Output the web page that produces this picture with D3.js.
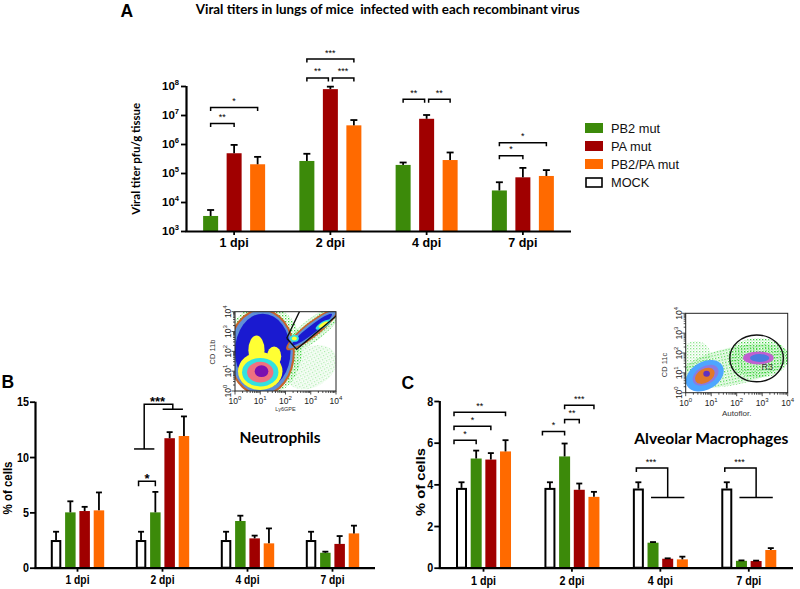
<!DOCTYPE html>
<html><head><meta charset="utf-8">
<script src="https://cdn.jsdelivr.net/npm/d3@7/dist/d3.min.js"></script>
<style>
html,body{margin:0;padding:0;background:#fff;}
svg{display:block;}
</style></head><body>
<svg id="fig" width="800" height="589"></svg>
<script>
// ---------------- DATA ----------------
const days = ["1 dpi", "2 dpi", "4 dpi", "7 dpi"];
const virusSeries = ["PB2 mut", "PA mut", "PB2/PA mut"];
const cellSeries = ["MOCK", "PB2 mut", "PA mut", "PB2/PA mut"];
const legendLabels = ["PB2 mut", "PA mut", "PB2/PA mut", "MOCK"];

// Panel A: viral titer (pfu/g tissue) mean and SEM
const titerPB2   = [3.3e3, 2.6e5, 1.9e5, 2.5e4];
const titerPA    = [4.8e5, 7.8e7, 7.4e6, 7.1e4];
const titerPB2PA = [2.0e5, 4.4e6, 2.8e5, 7.9e4];
const semTiterPB2   = [2.0e3, 2.0e5, 0.4e5, 2.3e4];
const semTiterPA    = [4.5e5, 1.7e7, 2.6e6, 7.9e4];
const semTiterPB2PA = [1.6e5, 2.3e6, 2.3e5, 4.7e4];
const titerTicks = [1e3, 1e4, 1e5, 1e6, 1e7, 1e8];

// Panel B: neutrophils (% of cells)
const neutMOCK  = [2.5, 2.5, 2.5, 2.5];
const neutPB2   = [5.0, 5.0, 4.22, 1.35];
const neutPA    = [5.12, 11.7, 2.65, 2.15];
const neutPB2PA = [5.18, 11.9, 2.2, 3.1];
const semNeutMOCK  = [0.75, 0.75, 0.75, 0.75];
const semNeutPB2   = [1.0, 1.85, 0.48, 0.1];
const semNeutPA    = [0.38, 0.55, 0.25, 0.71];
const semNeutPB2PA = [1.62, 1.77, 1.35, 0.7];
const neutTicks = [0, 5, 10, 15];

// Panel C: alveolar macrophages (% of cells)
const amMOCK  = [3.83, 3.83, 3.8, 3.8];
const amPB2   = [5.24, 5.34, 1.2, 0.33];
const amPA    = [5.19, 3.74, 0.43, 0.32];
const amPB2PA = [5.58, 3.4, 0.4, 0.85];
const semAmMOCK  = [0.27, 0.27, 0.3, 0.3];
const semAmPB2   = [0.38, 0.62, 0.03, 0.02];
const semAmPA    = [0.31, 0.3, 0.02, 0.02];
const semAmPB2PA = [0.54, 0.24, 0.13, 0.09];
const amTicks = [0, 2, 4, 6, 8];

// Significance annotations
const sigA = [
  {day: "1 dpi", from: "PB2 mut", to: "PA mut", level: 5.1e6, label: "**"},
  {day: "1 dpi", from: "PB2 mut", to: "PB2/PA mut", level: 1.8e7, label: "*"},
  {day: "2 dpi", from: "PB2 mut", to: "PA mut", level: 1.9e8, label: "**"},
  {day: "2 dpi", from: "PA mut", to: "PB2/PA mut", level: 1.9e8, label: "***"},
  {day: "2 dpi", from: "PB2 mut", to: "PB2/PA mut", level: 8.5e8, label: "***"},
  {day: "4 dpi", from: "PB2 mut", to: "PA mut", level: 3.5e7, label: "**"},
  {day: "4 dpi", from: "PA mut", to: "PB2/PA mut", level: 3.5e7, label: "**"},
  {day: "7 dpi", from: "PB2 mut", to: "PA mut", level: 3.9e5, label: "*"},
  {day: "7 dpi", from: "PB2 mut", to: "PB2/PA mut", level: 1.1e6, label: "*"}
];
const sigB = [
  {day: "2 dpi", from: "MOCK", to: "PB2 mut", level: 7.82, label: "*"}
];
const sigGroupB = [
  {day: "2 dpi", left: ["MOCK", "PB2 mut"], right: ["PA mut", "PB2/PA mut"], top: 14.77, lowLeft: 10.73, lowRight: 14.32, label: "***"}
];
const sigC = [
  {day: "1 dpi", from: "MOCK", to: "PB2 mut", level: 6.12, label: "*"},
  {day: "1 dpi", from: "MOCK", to: "PA mut", level: 6.79, label: "*"},
  {day: "1 dpi", from: "MOCK", to: "PB2/PA mut", level: 7.46, label: "**"},
  {day: "2 dpi", from: "MOCK", to: "PB2 mut", level: 6.54, label: "*"},
  {day: "2 dpi", from: "PB2 mut", to: "PA mut", level: 7.11, label: "**"},
  {day: "2 dpi", from: "PB2 mut", to: "PB2/PA mut", level: 7.8, label: "***"}
];
const sigGroupC = [
  {day: "4 dpi", left: ["MOCK"], right: ["PB2 mut", "PB2/PA mut"], top: 4.78, lowRight: 3.37, label: "***"},
  {day: "7 dpi", left: ["MOCK"], right: ["PB2 mut", "PB2/PA mut"], top: 4.78, lowRight: 3.37, label: "***"}
];

// ---------------- DRAWING ----------------
const SANS = '"Liberation Sans", Arial, Helvetica, sans-serif';
const CAL = 'Lato, "Open Sans", "Liberation Sans", sans-serif';

const svg = d3.select("#fig");
svg.append("rect").attr("width", 800).attr("height", 589).attr("fill", "#fff");

const colorOf = d3.scaleOrdinal()
  .domain(["MOCK", "PB2 mut", "PA mut", "PB2/PA mut"])
  .range(["#ffffff", "#3c8a0a", "#a00000", "#ff6a00"]);

function buildRows(series, means, sems) {
  return days.flatMap((d, i) => series.map((s, j) => ({day: d, series: s, mean: means[j][i], sem: sems[j][i]})));
}

function drawPanel(o) {
  const g = svg.append("g");
  const x = d3.scaleBand().domain(days).range(o.xRange);
  const half = o.step * (o.series.length - 1) / 2;
  const inner = d3.scalePoint().domain(o.series).range([-half, half]);
  const cx = (d, s) => x(d) + x.bandwidth() / 2 + inner(s);
  const y = o.y;
  const base = y.domain()[0];
  const isMock = d => d.series === "MOCK";

  g.selectAll("rect.bar").data(o.rows).join("rect")
    .attr("class", "bar")
    .attr("x", d => cx(d.day, d.series) - o.barW / 2 + (isMock(d) ? 1 : 0))
    .attr("y", d => y(d.mean) + (isMock(d) ? 1 : 0))
    .attr("width", d => o.barW - (isMock(d) ? 2 : 0))
    .attr("height", d => y(base) - y(d.mean) - (isMock(d) ? 1 : 0))
    .attr("fill", d => colorOf(d.series))
    .attr("stroke", d => isMock(d) ? "#000" : "none")
    .attr("stroke-width", 2);

  const eb = g.selectAll("g.err").data(o.rows).join("g").attr("class", "err")
    .attr("stroke", "#000").attr("stroke-width", 1.8);
  eb.append("line")
    .attr("x1", d => cx(d.day, d.series)).attr("x2", d => cx(d.day, d.series))
    .attr("y1", d => y(d.mean)).attr("y2", d => y(d.mean + d.sem));
  eb.append("line")
    .attr("x1", d => cx(d.day, d.series) - o.cap / 2).attr("x2", d => cx(d.day, d.series) + o.cap / 2)
    .attr("y1", d => y(d.mean + d.sem)).attr("y2", d => y(d.mean + d.sem));

  const ya = g.append("g").attr("transform", `translate(${o.xRange[0]},0)`)
    .call(d3.axisLeft(y).tickValues(o.ticks).tickSize(5).tickSizeOuter(0).tickPadding(o.yPad));
  const xa = g.append("g").attr("transform", `translate(0,${y(base)})`)
    .call(d3.axisBottom(x).tickSize(4).tickSizeOuter(0).tickPadding(o.xPad));
  [ya, xa].forEach(a => {
    a.select(".domain").attr("stroke-width", 2.2).attr("stroke", "#000");
    a.selectAll(".tick line").attr("stroke-width", 1.8).attr("stroke", "#000");
    a.selectAll("text").attr("font-family", SANS).attr("font-weight", "bold").attr("fill", "#000");
  });
  ya.selectAll("text").attr("font-size", o.yFont);
  xa.selectAll("text").attr("font-size", o.xFont);
  if (o.squeeze) {
    ya.selectAll(".tick text").attr("transform", `scale(${o.squeeze},1)`);
    xa.selectAll(".tick text").attr("transform", `scale(${o.squeeze},1)`);
  }
  ya.select(".domain").attr("d", `M0.5,${y(base) + 1}V${y(o.ticks[o.ticks.length - 1])}`);
  xa.select(".domain").attr("d", `M${o.xRange[0] - 0.5},0.5H${o.xRange[1]}`);
  if (o.logLabels) {
    ya.selectAll(".tick text").each(function (v) {
      const t = d3.select(this).text(null);
      t.append("tspan").text("10");
      t.append("tspan").attr("font-size", o.yFont * 0.66).attr("dy", "-0.75em").text(Math.round(Math.log10(v)));
    });
  }

  const bg = g.append("g").attr("stroke", "#000").attr("stroke-width", 1.5).attr("fill", "none");
  (o.sig || []).forEach(b => {
    let x1 = cx(b.day, b.from), x2 = cx(b.day, b.to);
    if (b.from === "MOCK") x1 += o.mockStart;
    if (o.sig.some(c => c !== b && c.day === b.day && c.level === b.level && c.to === b.from)) x1 += 2;
    if (o.sig.some(c => c !== b && c.day === b.day && c.level === b.level && c.from === b.to)) x2 -= 2;
    const yy = y(b.level);
    bg.append("path").attr("d", `M${x1},${yy + o.tip}V${yy}H${x2}V${yy + o.tip}`);
    g.append("text").attr("x", (x1 + x2) / 2).attr("y", yy + o.sigDy)
      .attr("text-anchor", "middle").attr("font-family", SANS).attr("font-size", o.sigFont)
      .attr("font-weight", o.sigWeight).text(b.label);
  });
  (o.sigGroup || []).forEach(b => {
    const side = (list, low) => {
      const cs = list.map(s => cx(b.day, s));
      if (cs.length === 1) {
        return {ax: cs[0] + (list[0] === "MOCK" ? o.groupMockOff : 0)};
      }
      const a = cs[0] + o.spanPad[0], c = cs[cs.length - 1] + o.spanPad[1];
      bg.append("path").attr("d", `M${a},${y(low)}H${c}`);
      return {ax: (a + c) / 2};
    };
    const L = side(b.left, b.lowLeft), R = side(b.right, b.lowRight);
    const yt = y(b.top);
    const lowL = b.left.length === 1 ? yt + o.tip : y(b.lowLeft);
    const lowR = b.right.length === 1 ? yt + o.tip : y(b.lowRight);
    bg.append("path").attr("d", `M${L.ax},${lowL}V${yt}H${R.ax}V${lowR}`);
    g.append("text").attr("x", (L.ax + R.ax) / 2 + o.groupLabelDx).attr("y", yt + o.sigDy)
      .attr("text-anchor", "middle").attr("font-family", SANS).attr("font-size", o.sigFont)
      .attr("font-weight", o.sigWeight).text(b.label);
  });
  return g;
}

// Panel A
drawPanel({
  rows: buildRows(virusSeries, [titerPB2, titerPA, titerPB2PA], [semTiterPB2, semTiterPA, semTiterPB2PA]),
  series: virusSeries, xRange: [186, 571],
  y: d3.scaleLog().domain([1e3, 1e8]).range([231, 86]),
  ticks: titerTicks, step: 23.5, barW: 15, cap: 7, yPad: 2, xPad: 3,
  yFont: 11.5, xFont: 12.5, logLabels: true,
  sig: sigA, tip: 3.5, sigDy: -3.5, sigFont: 9, sigWeight: "normal", mockStart: 0
});
// Panel B
drawPanel({
  rows: buildRows(cellSeries, [neutMOCK, neutPB2, neutPA, neutPB2PA], [semNeutMOCK, semNeutPB2, semNeutPA, semNeutPB2PA]),
  series: cellSeries, xRange: [35, 375],
  y: d3.scaleLinear().domain([0, 15]).range([567.7, 401.7]),
  ticks: neutTicks, step: 14.3, barW: 10.5, cap: 6, yPad: 2, xPad: 4,
  yFont: 12.5, xFont: 12, squeeze: 0.86,
  sig: sigB, sigGroup: sigGroupB, tip: 5, sigDy: 1.8, sigFont: 13, sigWeight: "bold",
  mockStart: -2.5, spanPad: [-7, -1], groupLabelDx: -1, groupMockOff: -2
});
// Panel C
drawPanel({
  rows: buildRows(cellSeries, [amMOCK, amPB2, amPA, amPB2PA], [semAmMOCK, semAmPB2, semAmPA, semAmPB2PA]),
  series: cellSeries, xRange: [439.3, 793],
  y: d3.scaleLinear().domain([0, 8]).range([567.7, 401]),
  ticks: amTicks, step: 14.67, barW: 11, cap: 6, yPad: 2, xPad: 4,
  yFont: 12.5, xFont: 12.5, squeeze: 0.86,
  sig: sigC, sigGroup: sigGroupC, tip: 4, sigDy: -3.5, sigFont: 9, sigWeight: "normal",
  mockStart: -7.5, spanPad: [-2, 2], groupLabelDx: -1, groupMockOff: -2
});

// ---------------- TEXT ----------------
function txt(x, y, s, size, opt = {}) {
  const t = svg.append("text").attr("x", x).attr("y", y).attr("font-size", size)
    .attr("font-family", opt.font || SANS).attr("font-weight", opt.weight || "bold")
    .attr("text-anchor", opt.anchor || "start").attr("fill", opt.fill || "#000")
    .style("white-space", "pre").text(s);
  if (opt.len) t.attr("textLength", opt.len).attr("lengthAdjust", "spacingAndGlyphs");
  if (opt.rot) t.attr("transform", `rotate(${opt.rot},${x},${y})`);
  return t;
}
txt(120.5, 16.5, "A", 17.5);
txt(195.7, 14, "Viral titers in lungs of mice  infected with each recombinant virus", 12.8, {font: CAL, len: 384});
txt(140, 158.8, "Viral titer pfu/g tissue", 11, {font: CAL, anchor: "middle", rot: -90, len: 112});
txt(1.5, 387.5, "B", 17.5);
txt(401.5, 389, "C", 17.5);
txt(12, 488, "% of cells", 12.5, {anchor: "middle", rot: -90, len: 53});
txt(425, 482, "% of cells", 13, {anchor: "middle", rot: -90, len: 68});
txt(280, 443, "Neutrophils", 16, {font: CAL, anchor: "middle", len: 81});
txt(711.3, 444, "Alveolar Macrophages", 16, {font: CAL, anchor: "middle", len: 154});

// legend
const leg = svg.append("g");
legendLabels.forEach((s, i) => {
  const yy = 123 + i * 18;
  leg.append("rect").attr("x", s === "MOCK" ? 586 : 585).attr("y", s === "MOCK" ? yy + 1 : yy)
    .attr("width", s === "MOCK" ? 16 : 18).attr("height", s === "MOCK" ? 9 : 10)
    .attr("fill", colorOf(s)).attr("stroke", s === "MOCK" ? "#000" : "none").attr("stroke-width", 1.6);
  txt(611, yy + 10.3, s, 12.8, {weight: "normal", fill: "#111"});
});

// ---------------- FLOW CYTOMETRY INSETS ----------------
const defs = svg.append("defs");
const pat = defs.append("pattern").attr("id", "spk").attr("width", 3).attr("height", 3)
  .attr("patternUnits", "userSpaceOnUse");
pat.append("rect").attr("width", 1.3).attr("height", 1.3).attr("fill", "#3fd33f");
pat.append("rect").attr("x", 1.5).attr("y", 1.5).attr("width", 1).attr("height", 1).attr("fill", "#7be37b");

function inset(o) {
  const g = svg.append("g");
  const sx = d3.scaleLog().domain([1, 1e4]).range([o.x0, o.x1]);
  const sy = d3.scaleLog().domain([1, 1e4]).range([o.y1, o.y0]);
  const dx = (o.x1 - o.x0) / 4, dy = (o.y1 - o.y0) / 4;
  defs.append("clipPath").attr("id", o.id).append("rect")
    .attr("x", o.x0).attr("y", o.y0).attr("width", o.x1 - o.x0).attr("height", o.y1 - o.y0);
  const c = g.append("g").attr("clip-path", `url(#${o.id})`);
  o.blobs.forEach(b => {
    const px = sx(Math.pow(10, b[0])), py = sy(Math.pow(10, b[1]));
    c.append("ellipse").attr("cx", px).attr("cy", py).attr("rx", b[2] * dx).attr("ry", b[3] * dy)
      .attr("transform", `rotate(${b[4]},${px},${py})`).attr("fill", b[5]).attr("opacity", b[6] || 1);
  });
  if (o.gatePoly) {
    c.append("path").attr("d", d3.line()(o.gatePoly.map(p => [sx(Math.pow(10, p[0])), sy(Math.pow(10, p[1]))])))
      .attr("fill", "none").attr("stroke", "#111").attr("stroke-width", 1.4);
  }
  if (o.gateEll) {
    const e = o.gateEll;
    c.append("ellipse").attr("cx", sx(Math.pow(10, e[0]))).attr("cy", sy(Math.pow(10, e[1])))
      .attr("rx", e[2] * dx).attr("ry", e[3] * dy).attr("fill", "none").attr("stroke", "#111").attr("stroke-width", 1.4);
    g.append("text").attr("x", sx(Math.pow(10, e[0])) + 5).attr("y", sy(Math.pow(10, e[1])) + 12)
      .attr("font-family", SANS).attr("font-size", 9).attr("fill", "#333").text("R3");
  }
  g.append("rect").attr("x", o.x0).attr("y", o.y0).attr("width", o.x1 - o.x0).attr("height", o.y1 - o.y0)
    .attr("fill", "none").attr("stroke", "#222").attr("stroke-width", 1);
  const minor = [];
  for (let k = 0; k < 4; k++) for (let m = 2; m < 10; m++) minor.push(m * Math.pow(10, k));
  const major = [1, 10, 100, 1000, 10000];
  const tg = g.append("g").attr("stroke", "#222").attr("stroke-width", 0.8);
  minor.forEach(v => {
    tg.append("line").attr("x1", sx(v)).attr("x2", sx(v)).attr("y1", o.y1).attr("y2", o.y1 + 2);
    tg.append("line").attr("y1", sy(v)).attr("y2", sy(v)).attr("x1", o.x0).attr("x2", o.x0 - 2);
  });
  major.forEach(v => {
    tg.append("line").attr("x1", sx(v)).attr("x2", sx(v)).attr("y1", o.y1).attr("y2", o.y1 + 3.5);
    tg.append("line").attr("y1", sy(v)).attr("y2", sy(v)).attr("x1", o.x0).attr("x2", o.x0 - 3.5);
    const e = Math.round(Math.log10(v));
    const tx = g.append("text").attr("x", sx(v)).attr("y", o.y1 + 13).attr("text-anchor", "middle")
      .attr("font-family", SANS).attr("font-size", 8.5).attr("fill", "#222");
    tx.append("tspan").text("10");
    tx.append("tspan").attr("font-size", 6).attr("dy", -4).text(e);
    const ty = g.append("text").attr("transform", `translate(${o.x0 - 4},${sy(v)}) rotate(-90)`)
      .attr("text-anchor", "middle").attr("font-family", SANS).attr("font-size", 8.5).attr("fill", "#222");
    ty.append("tspan").text("10");
    ty.append("tspan").attr("font-size", 6).attr("dy", -4).text(e);
  });
  g.append("text").attr("x", (o.x0 + o.x1) / 2).attr("y", o.y1 + o.xLabDy).attr("text-anchor", "middle")
    .attr("font-family", SANS).attr("font-size", o.xLabSize).attr("fill", "#333").text(o.xLab);
  g.append("text").attr("transform", `translate(${o.yLabX},${o.yLabY}) rotate(-90)`).attr("text-anchor", "middle")
    .attr("font-family", SANS).attr("font-size", 7.5).attr("fill", "#333").text(o.yLab);
}

// blobs: [logX, logY, rxDecades, ryDecades, rotation, color, opacity]
inset({
  id: "clipB", x0: 235, x1: 336, y0: 311.7, y1: 391,
  xLab: "Ly6GPE", xLabDy: 20, xLabSize: 5.5, yLab: "CD 11b", yLabX: 215, yLabY: 352,
  blobs: [
    [1.15, 2.05, 1.5, 2.3, 0, "url(#spk)"],
    [3.1, 3.1, 1.45, 0.55, -38, "url(#spk)"],
    [3.0, 1.2, 1.1, 1.0, -30, "url(#spk)", 0.45],
    [1.05, 1.95, 1.32, 2.2, 0, "#c8642a"],
    [1.05, 1.95, 1.24, 2.1, 0, "#5f8fd8"],
    [1.1, 2.0, 1.1, 1.9, 0, "#1a1ad0"],
    [3.05, 3.1, 1.28, 0.38, -38, "#c8642a"],
    [3.05, 3.1, 1.18, 0.3, -38, "#5f8fd8"],
    [3.05, 3.1, 1.0, 0.2, -38, "#1a1ad0"],
    [1.0, 1.0, 0.88, 0.95, 0, "#ffff33"],
    [0.85, 2.05, 0.32, 0.75, 0, "#ffff33"],
    [1.55, 1.75, 0.28, 0.5, 0, "#ffff33"],
    [1.0, 0.95, 0.72, 0.72, 0, "#33e0e0"],
    [1.0, 0.95, 0.52, 0.52, 0, "#f07080"],
    [1.05, 1.0, 0.27, 0.3, 0, "#7a10b0"],
    [2.35, 2.65, 0.18, 0.17, 0, "#33e0e0"],
    [2.35, 2.65, 0.1, 0.1, 0, "#ffff33"],
    [3.5, 3.35, 0.35, 0.15, -30, "#33e0e0"],
    [3.5, 3.35, 0.22, 0.09, -30, "#ffff33"]
  ],
  gatePoly: [[2.05, 2.66], [2.57, 4.05], [4.05, 4.05], [4.05, 3.83], [2.44, 2.1], [2.05, 2.66]]
});
inset({
  id: "clipC", x0: 685.7, x1: 787.7, y0: 313.3, y1: 392.7,
  xLab: "Autoflor.", xLabDy: 23, xLabSize: 8, yLab: "CD 11c", yLabX: 667, yLabY: 365,
  blobs: [
    [1.9, 1.35, 2.2, 0.95, -12, "url(#spk)"],
    [2.85, 1.75, 1.2, 1.0, 0, "url(#spk)"],
    [0.4, 1.8, 0.6, 0.8, 0, "url(#spk)", 0.6],
    [0.75, 0.85, 0.8, 0.7, -30, "#4da6ff"],
    [0.78, 0.88, 0.55, 0.45, -30, "#b060d0", 0.6],
    [0.75, 0.85, 0.42, 0.35, -30, "#e0782a"],
    [0.82, 0.95, 0.13, 0.15, 0, "#6030c0"],
    [2.85, 1.75, 0.6, 0.33, 0, "#c060d0"],
    [2.9, 1.75, 0.38, 0.2, 0, "#4a7be0"]
  ],
  gateEll: [2.78, 1.73, 1.05, 1.18]
});
</script>
</body></html>
